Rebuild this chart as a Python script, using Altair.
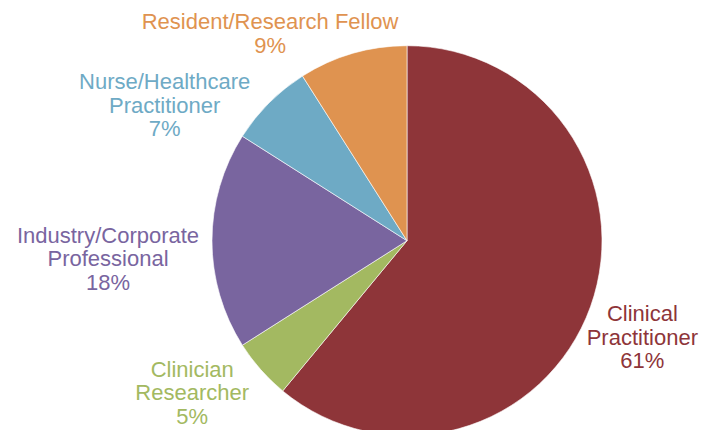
import altair as alt
import pandas as pd

categories = ["Clinical Practitioner", "Clinician Researcher", "Industry/Corporate Professional",
              "Nurse/Healthcare Practitioner", "Resident/Research Fellow"]
label_lines = [["Clinical", "Practitioner"], ["Clinician", "Researcher"],
               ["Industry/Corporate", "Professional"], ["Nurse/Healthcare", "Practitioner"],
               ["Resident/Research Fellow"]]
values = [61, 5, 18, 7, 9]
colors = ["#8E3539", "#A3B961", "#79659F", "#6EAAC5", "#DF9350"]

# label nudges (px) relative to the radial anchor point
nudges = {
    "Clinical Practitioner": (-14, -9),
    "Clinician Researcher": (-16, -39),
    "Industry/Corporate Professional": (-34, 2),
    "Nurse/Healthcare Practitioner": (-55, 36),
    "Resident/Research Fellow": (-63, 43),
}

df = pd.DataFrame({
    "category": categories,
    "value": values,
    "idx": list(range(len(categories))),
    "label": ["\n".join(l + [f"{v}%"]) for l, v in zip(label_lines, values)],
})

color_scale = alt.Scale(domain=categories, range=colors)
CX, CY, R = 399, 232.7, 195

base = alt.Chart(df)

arcs = base.mark_arc(radius=R, stroke="white", strokeWidth=0.6).encode(
    theta=alt.Theta("value:Q", stack=True),
    order=alt.Order("idx:Q"),
    color=alt.Color("category:N", scale=color_scale, legend=None),
    x=alt.value(CX),
    y=alt.value(CY),
)

layers = [arcs]
for cat in categories:
    dx, dy = nudges[cat]
    t = base.transform_window(
        cum="sum(value)", sort=[alt.SortField("idx")]
    ).transform_calculate(
        mid="datum.cum - datum.value / 2"
    ).transform_filter(
        alt.datum.category == cat
    ).mark_text(
        radius=265, dx=dx, dy=dy, align="center", baseline="alphabetic",
        lineBreak="\n", lineHeight=23.5, font="Liberation Sans", fontSize=22,
    ).encode(
        theta=alt.Theta("mid:Q", stack=False),
        text=alt.Text("label:N"),
        color=alt.Color("category:N", scale=color_scale, legend=None),
        x=alt.value(CX),
        y=alt.value(CY),
    )
    layers.append(t)

chart = alt.layer(*layers).properties(
    width=703, height=422, padding=0, autosize="none"
).configure_view(stroke=None)

chart.save("out.html", embed_options={"renderer": "svg", "actions": False})
